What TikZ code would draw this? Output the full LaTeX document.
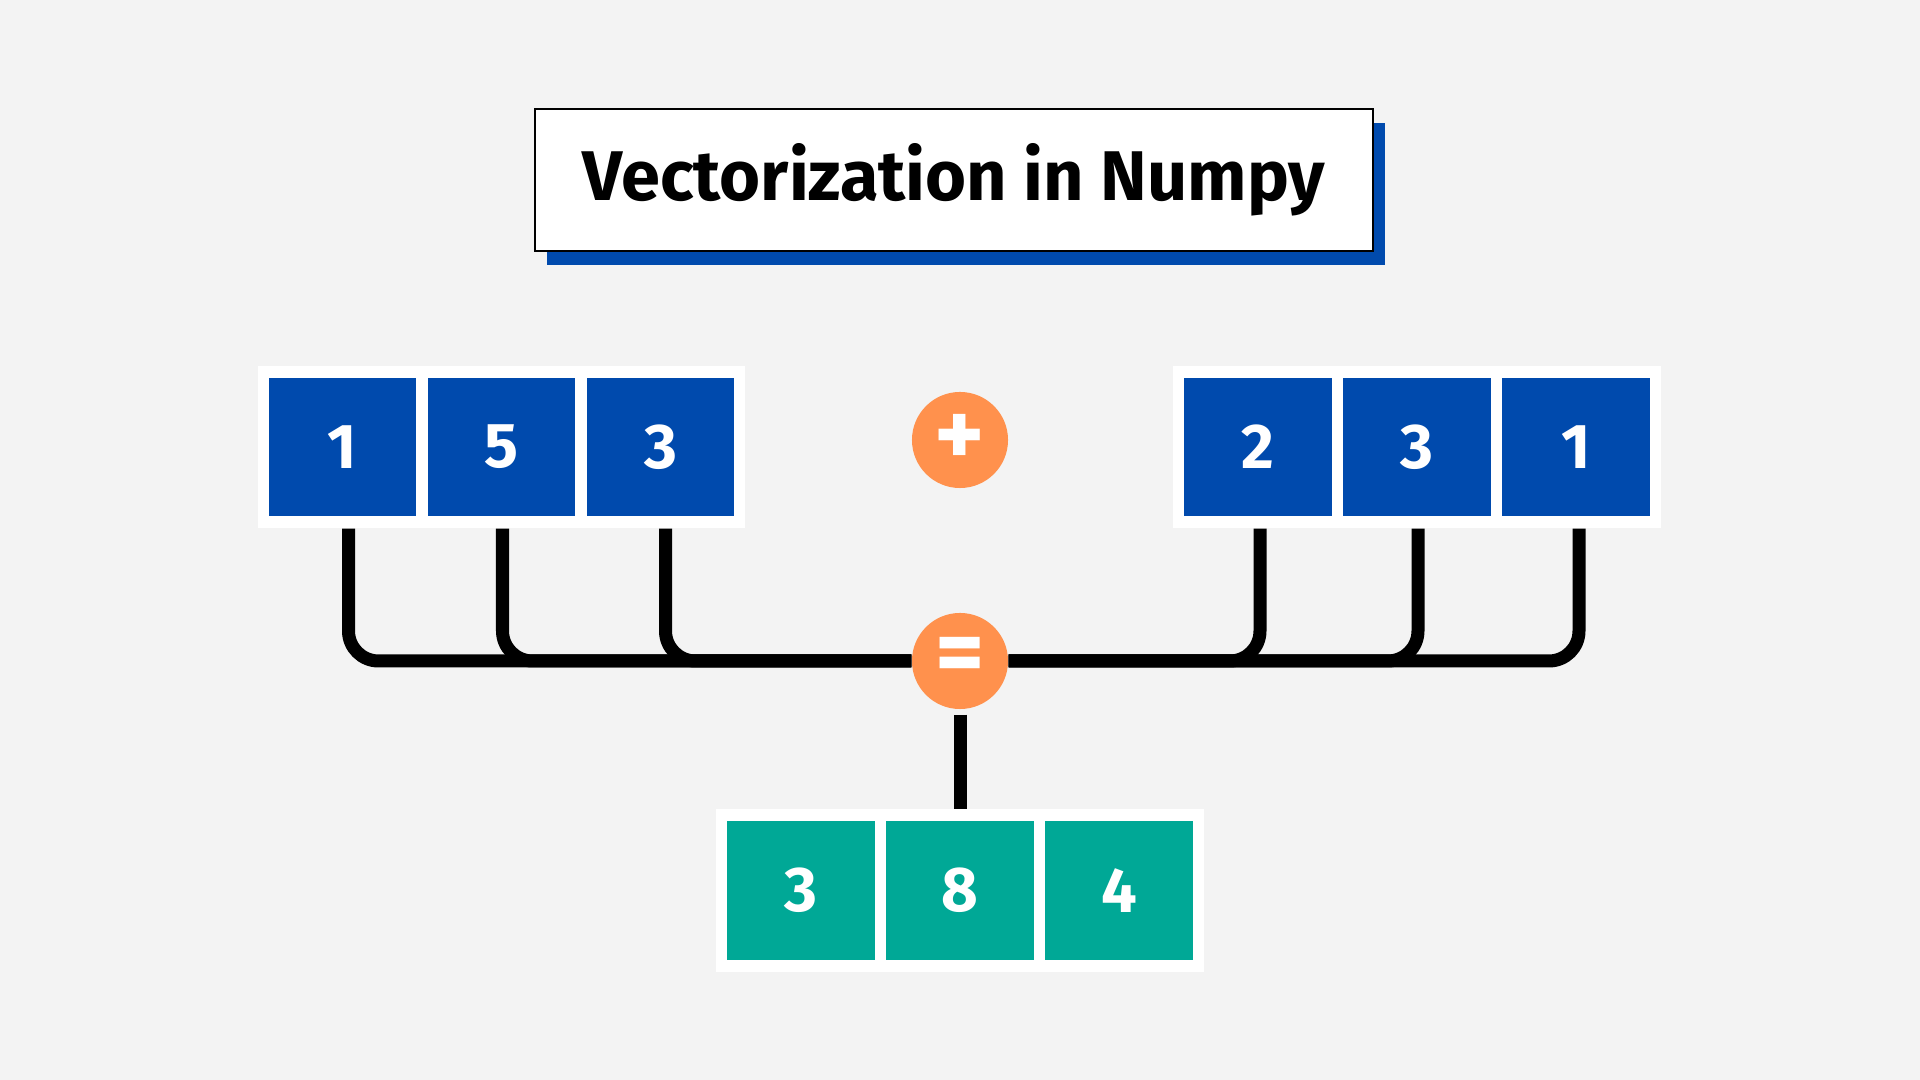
\documentclass[tikz,border=0pt]{standalone}
\usepackage{fontspec}
\setmainfont[Numbers=Lining]{Fira Sans}
\usetikzlibrary{shadows}
\definecolor{npblue}{HTML}{004AAD}
\definecolor{npteal}{HTML}{00A896}
\definecolor{nporange}{HTML}{FF914D}
\definecolor{bgcol}{HTML}{F3F3F3}
\tikzset{%
  titlebox/.style={draw=black,line width=0.5pt,fill=white,minimum width=8.38cm,minimum height=1.42cm,
    font=\bfseries\fontsize{20}{20}\selectfont,
    drop shadow={shadow xshift=0.12cm,shadow yshift=-0.14cm,fill=npblue,opacity=1}},
  rowbox/.style={fill=white,minimum width=4.87cm,minimum height=1.62cm,inner sep=0},
  bcell/.style={fill=npblue,text=white,minimum width=1.47cm,minimum height=1.38cm,inner sep=0,
    font=\bfseries\fontsize{18}{18}\selectfont},
  gcell/.style={bcell,fill=npteal},
  opdot/.style={shape=circle,fill=nporange,text=white,minimum size=0.96cm,inner sep=0,
    font=\bfseries\fontsize{27}{27}\selectfont},
  wire/.style={draw=black,line width=0.13cm,rounded corners=0.3cm}
}
\begin{document}
\begin{tikzpicture}[x=0.01cm,y=-0.01cm]
  \fill[bgcol] (0,0) rectangle (1920,1080);
  \useasboundingbox (0,0) rectangle (1920,1080);
  \path
    (954,180) node (title)[titlebox]{Vectorization in Numpy};
  % first array
  \path
    (501.5,447) node (a_row)[rowbox]{}
    (342.5,447) node (a_1)[bcell]{1}
    (501.5,447) node (a_2)[bcell]{5}
    (660.5,447) node (a_3)[bcell]{3};
  % second array
  \path
    (1417,447) node (b_row)[rowbox]{}
    (1258,447) node (b_1)[bcell]{2}
    (1417,447) node (b_2)[bcell]{3}
    (1576,447) node (b_3)[bcell]{1};
  % result
  \path
    (960,890.5) node (c_row)[rowbox]{}
    (801,890.5) node (c_1)[gcell]{3}
    (960,890.5) node (c_2)[gcell]{8}
    (1119,890.5) node (c_3)[gcell]{4};
  \path
    (960,440) node (plus)[opdot]{+}
    (960,661) node (eq)[opdot]{=};
  \draw[wire] ([xshift=0.06cm]a_1 |- a_row.south) |- (eq.west);
  \draw[wire] ([xshift=0.01cm]a_2 |- a_row.south) |- (eq.west);
  \draw[wire] ([xshift=0.05cm]a_3 |- a_row.south) |- (eq.west);
  \draw[wire] ([xshift=0.02cm]b_1 |- b_row.south) |- (eq.east);
  \draw[wire] ([xshift=0.01cm]b_2 |- b_row.south) |- (eq.east);
  \draw[wire] ([xshift=0.03cm]b_3 |- b_row.south) |- (eq.east);
  \draw[wire,shorten <=0.05cm] (eq.south) -- (eq.south |- c_row.north);
\end{tikzpicture}
\end{document}
